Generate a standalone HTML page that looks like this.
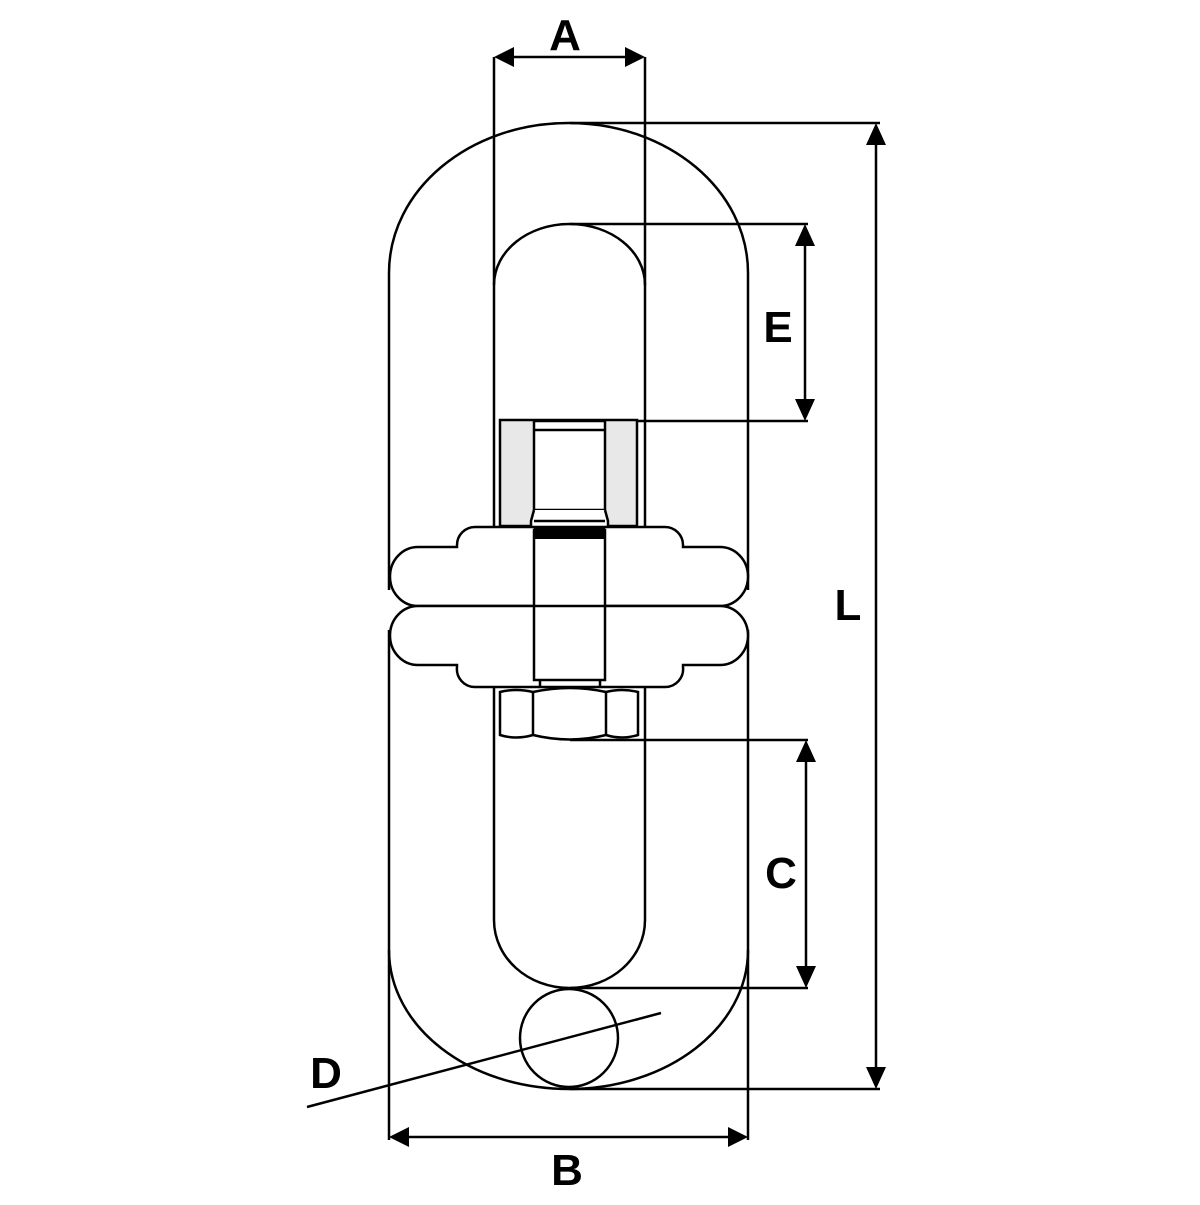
<!DOCTYPE html>
<html><head><style>html,body{margin:0;padding:0;background:#fff}</style></head><body>
<svg width="1200" height="1200" viewBox="0 0 1200 1200" xmlns="http://www.w3.org/2000/svg">
<g fill="none" stroke="#000" stroke-width="2.5">
<!-- upper outer link -->
<path d="M389,590 L389,273 C389,190 469,123 568.5,123 C668,123 748,190 748,273 L748,590"/>
<!-- lower outer link -->
<path d="M389,630 L389,950 C389,1027 469,1089 568.5,1089 C668,1089 748,1027 748,950 L748,630"/>
<!-- inner upper -->
<path d="M494,420 L494,285 C494,251 528,224 569.5,224 C611,224 645,251 645,285 L645,420"/>
<line x1="494" y1="57" x2="494" y2="285"/>
<line x1="645" y1="57" x2="645" y2="285"/>
<!-- inner lower -->
<path d="M494,690 L494,920 C494,958 528,988 569.5,988 C611,988 645,958 645,920 L645,690"/>
<!-- gray box -->
<rect x="500" y="420" width="137" height="106" fill="#e8e8e8"/>
<line x1="494" y1="420" x2="494" y2="690"/>
<line x1="645" y1="420" x2="645" y2="690"/>
<!-- bolt -->
<rect x="534" y="421" width="71" height="89" fill="#fff"/>
<line x1="534" y1="430" x2="605" y2="430"/>
<path d="M534,510 L531,521 L531,530 L608,530 L608,521 L605,510" fill="#fff"/>
<line x1="534" y1="521" x2="605" y2="521"/>
<!-- flanges -->
<path d="M457,547 L457,545 A18,18 0 0 1 475,527 L665,527 A18,18 0 0 1 683,545 L683,547 L720,547 A28,29.5 0 0 1 720,606 L418,606 A28,29.5 0 0 1 418,547 Z" fill="#fff"/>
<path d="M457,665 L457,667 A18,18 0 0 0 475,687 L665,687 A18,18 0 0 0 683,667 L683,665 L720,665 A28,29.5 0 0 0 720,606 L418,606 A28,29.5 0 0 0 418,665 Z" fill="#fff"/>
<rect x="534" y="530" width="71" height="150" fill="#fff"/>
<line x1="534" y1="606" x2="605" y2="606"/>
<rect x="534" y="528" width="71" height="11" fill="#000" stroke="none"/>
<path d="M540,680 L540,688 M600,680 L600,688"/>
<!-- nut -->
<path d="M500,692 Q516,688 533,692 Q570,684 606,692 Q622,688 638,692 L638,735 Q622,740 606,735 Q570,744 533,735 Q516,740 500,735 Z" fill="#fff"/>
<line x1="533" y1="692" x2="533" y2="735"/>
<line x1="606" y1="692" x2="606" y2="735"/>
<!-- pin circle -->
<circle cx="569" cy="1038" r="49"/>
<!-- D line -->
<line x1="307" y1="1107" x2="661" y2="1013"/>
<!-- extension lines -->
<line x1="570" y1="123" x2="880" y2="123"/>
<line x1="570" y1="1089" x2="880" y2="1089"/>
<line x1="570" y1="224" x2="808" y2="224"/>
<line x1="637" y1="421" x2="808" y2="421"/>
<line x1="570" y1="740" x2="808" y2="740"/>
<line x1="570" y1="988" x2="808" y2="988"/>
<line x1="389" y1="950" x2="389" y2="1140"/>
<line x1="748" y1="950" x2="748" y2="1140"/>
<!-- dim lines -->
<line x1="510" y1="57" x2="630" y2="57"/>
<line x1="405" y1="1137" x2="732" y2="1137"/>
<line x1="876" y1="140" x2="876" y2="1072"/>
<line x1="805" y1="240" x2="805" y2="405"/>
<line x1="806" y1="756" x2="806" y2="972"/>
</g>
<g fill="#000">
<polygon points="494,57 514,47 514,67"/>
<polygon points="645,57 625,47 625,67"/>
<polygon points="389,1137 409,1127 409,1147"/>
<polygon points="748,1137 728,1127 728,1147"/>
<polygon points="876,123 866,145 886,145"/>
<polygon points="876,1089 866,1067 886,1067"/>
<polygon points="805,224 795,246 815,246"/>
<polygon points="805,421 795,399 815,399"/>
<polygon points="806,740 796,762 816,762"/>
<polygon points="806,988 796,966 816,966"/>
</g>
<g font-family="Liberation Sans, sans-serif" font-weight="bold" font-size="44" text-anchor="middle">
<text x="565" y="50">A</text>
<text x="567" y="1185">B</text>
<text x="781" y="888">C</text>
<text x="326" y="1088">D</text>
<text x="778" y="342">E</text>
<text x="848" y="620">L</text>
</g>
</svg>
</body></html>
